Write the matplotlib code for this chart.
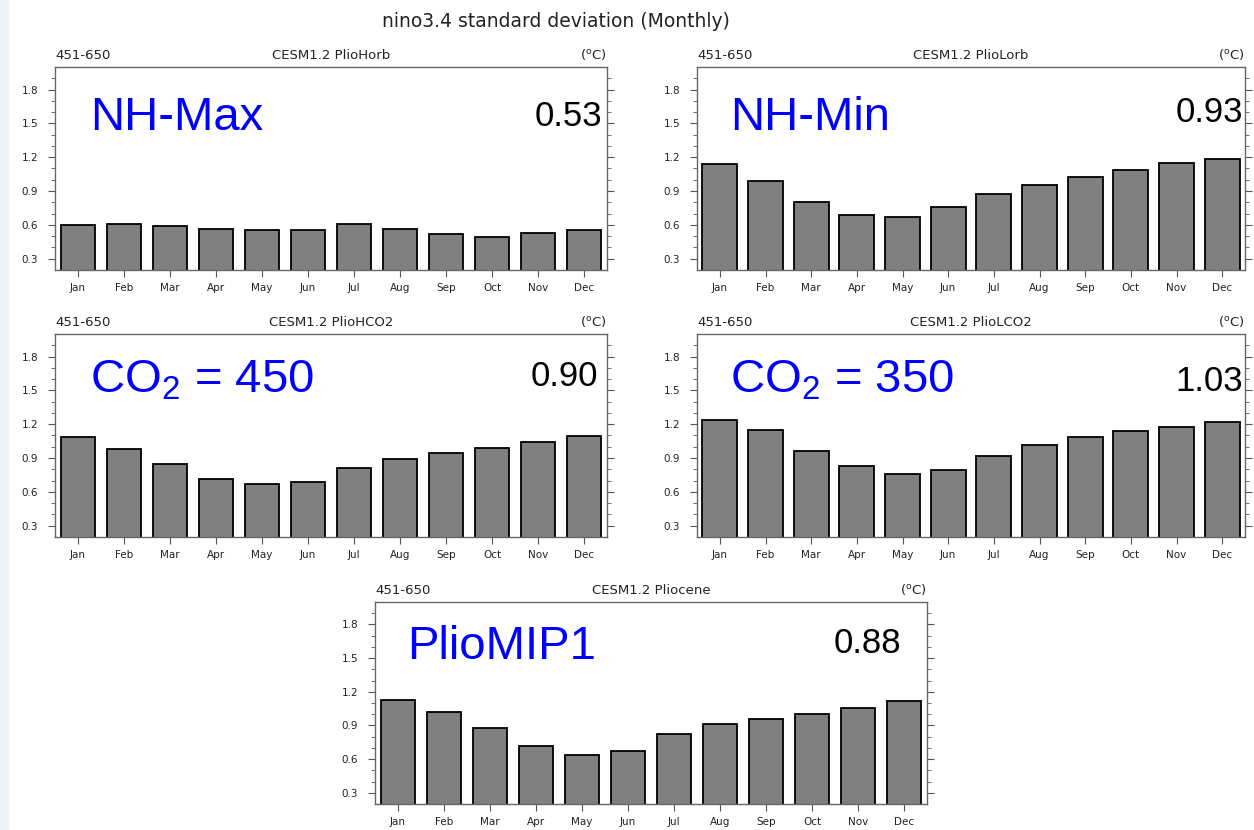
import matplotlib
matplotlib.use("Agg")
import matplotlib.pyplot as plt
from matplotlib.patches import Rectangle
import numpy as np

plt.rcParams["font.family"] = ["Liberation Sans", "DejaVu Sans"]
NCL_FONT = ["DejaVu Sans"]  # wider face, closer to the stretched NCL labels

MONTHS = ["Jan", "Feb", "Mar", "Apr", "May", "Jun",
          "Jul", "Aug", "Sep", "Oct", "Nov", "Dec"]

# monthly nino3.4 std (degC)
plio_horb = [0.60, 0.61, 0.59, 0.565, 0.555, 0.555, 0.61, 0.565, 0.515, 0.495, 0.525, 0.555]
plio_lorb = [1.14, 0.99, 0.80, 0.685, 0.667, 0.76, 0.873, 0.954, 1.028, 1.091, 1.151, 1.18]
plio_hco2 = [1.085, 0.978, 0.845, 0.718, 0.67, 0.69, 0.809, 0.895, 0.943, 0.993, 1.04, 1.097]
plio_lco2 = [1.236, 1.15, 0.963, 0.83, 0.756, 0.79, 0.919, 1.014, 1.085, 1.144, 1.174, 1.224]
pliocene = [1.129, 1.023, 0.875, 0.719, 0.636, 0.669, 0.825, 0.917, 0.955, 0.999, 1.052, 1.114]

case_names = ["PlioHorb", "PlioLorb", "PlioHCO2", "PlioLCO2", "Pliocene"]
labels = ["NH-Max", "NH-Min", r"$\mathregular{CO_2}$ = 450", r"$\mathregular{CO_2}$ = 350", "PlioMIP1"]
annual_std = ["0.53", "0.93", "0.90", "1.03", "0.88"]
series = [plio_horb, plio_lorb, plio_hco2, plio_lco2, pliocene]

W, H = 1254, 830
# axes boxes in pixels: left, top, right, bottom
boxes = [(55, 67, 607, 270), (697, 67, 1245, 270),
         (55, 334, 607, 537), (697, 334, 1245, 537),
         (375, 602, 927, 804)]
# label / number placement in axes fraction
label_pos = [(0.063, 0.69), (0.06, 0.69), (0.063, 0.71), (0.06, 0.71), (0.058, 0.72)]
num_pos = [(0.991, 0.71), (0.996, 0.73), (0.984, 0.745), (0.996, 0.72), (0.953, 0.75)]

fig = plt.figure(figsize=(W / 100, H / 100), dpi=100)
fig.patches.append(Rectangle((0, 0), 8 / W, 1, transform=fig.transFigure,
                             color="#eef5fa", zorder=0))

fig.text(556 / W, 1 - 27 / H, "nino3.4 standard deviation (Monthly)",
         ha="center", va="baseline", fontsize=13.5, color="#222222",
         family=NCL_FONT)

x = np.arange(len(MONTHS))
for i, (vals, (l, t, r, b)) in enumerate(zip(series, boxes)):
    ax = fig.add_axes([l / W, 1 - b / H, (r - l) / W, (b - t) / H])
    ax.bar(x, vals, width=0.76, color="#808080", edgecolor="black",
           linewidth=1.3, zorder=2)
    ax.set_xlim(-0.5, 11.5)
    ax.set_ylim(0.2, 2.0)
    ax.set_xticks(x)
    ax.set_xticklabels(MONTHS, family=NCL_FONT)
    ax.set_yticks([0.3, 0.6, 0.9, 1.2, 1.5, 1.8])
    ax.set_yticklabels(["0.3", "0.6", "0.9", "1.2", "1.5", "1.8"], family=NCL_FONT)
    ax.set_yticks(np.arange(0.3, 2.0, 0.1), minor=True)
    ax.tick_params(axis="y", which="both", left=True, right=True,
                   direction="out", colors="#555555", labelcolor="#222222",
                   labelsize=7.5, pad=7)
    ax.tick_params(axis="y", which="major", length=5, width=0.8)
    ax.tick_params(axis="y", which="minor", length=3, width=0.6)
    ax.tick_params(axis="x", which="both", top=False, bottom=True,
                   direction="out", length=5, width=0.8, colors="#555555",
                   labelcolor="#222222", labelsize=7.5, pad=4)
    ax.tick_params(axis="x", which="minor", bottom=False)
    for s in ax.spines.values():
        s.set_color("#666666")
        s.set_linewidth(1.0)

    ax.text(0, 1.025, "451-650", transform=ax.transAxes, ha="left",
            va="bottom", fontsize=9.5, color="#222222", family=NCL_FONT)
    ax.text(0.5, 1.025, "CESM1.2 " + case_names[i], transform=ax.transAxes,
            ha="center", va="bottom", fontsize=9.5, color="#222222",
            family=NCL_FONT)
    ax.text(1, 1.025, r"($\mathregular{^o}$C)", transform=ax.transAxes,
            ha="right", va="bottom", fontsize=9.5, color="#222222",
            family=NCL_FONT)

    lx, ly = label_pos[i]
    ax.text(lx, ly, labels[i], transform=ax.transAxes, ha="left",
            va="baseline", fontsize=34, color="#0000ff", zorder=3)
    nx, ny = num_pos[i]
    ax.text(nx, ny, annual_std[i], transform=ax.transAxes, ha="right",
            va="baseline", fontsize=25, color="black", zorder=3)

fig.savefig("out.png", dpi=100)
